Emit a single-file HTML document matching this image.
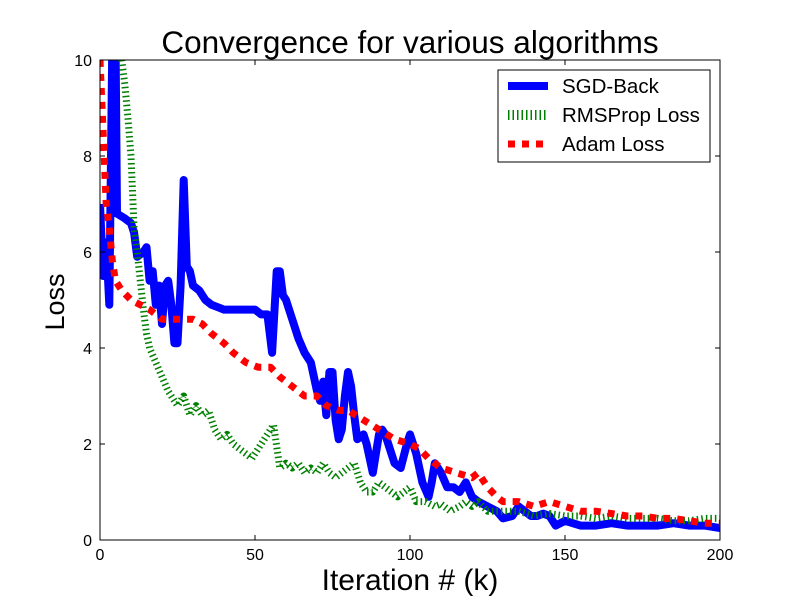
<!DOCTYPE html>
<html><head><meta charset="utf-8"><style>
body{margin:0;background:#fff}
svg text{font-family:"Liberation Sans","DejaVu Sans",sans-serif}
</style></head><body>
<svg id="chart" width="800" height="600">
<rect width="800" height="600" fill="#fff"/>
<defs><clipPath id="clip"><rect x="100" y="60" width="620" height="480"/></clipPath></defs>
<text x="410" y="53" font-size="31.5" text-anchor="middle">Convergence for various algorithms</text>
<g id="series" clip-path="url(#clip)"></g>
<g id="axes"></g>
<text x="410" y="590" font-size="30" text-anchor="middle">Iteration # (k)</text>
<text x="64" y="302" font-size="27" text-anchor="middle" transform="rotate(-90 64 302)">Loss</text>
<g>
<rect x="498" y="70" width="212" height="92" fill="#fff" stroke="#000" stroke-width="1"/>
<line x1="508" y1="86" x2="548" y2="86" stroke="#0000ff" stroke-width="8"/>
<text x="562" y="93" font-size="20.5">SGD-Back</text>
<line x1="508" y1="115" x2="548" y2="115" stroke="#008000" stroke-width="10" stroke-dasharray="1.5,3"/>
<text x="562" y="122" font-size="20.5">RMSProp Loss</text>
<line x1="508" y1="144" x2="548" y2="144" stroke="#ff0000" stroke-width="7" stroke-dasharray="7,7"/>
<text x="562" y="151" font-size="20.5">Adam Loss</text>
</g>
</svg>
<script>
const xTicks=[0,50,100,150,200];
const yTicks=[0,2,4,6,8,10];
const sgdK=[0,1,2,3,4,5,5.5,8,10,11,12,14,15,16,17,18,19,20,21,22,23,24,25,26,27,28,29,30,32,34,36,38,40,45,50,52,54,55.5,57,58,59,60,62,64,66,68,70,71,72,73,74,75,76,77,78,79,80,81,82,83,85,86,87,88,89,90,91,92,93,95,97,99,100,102,104,106,107,108,110,112,114,116,118,120,122,125,128,130,133,135,137,139,141,143,145,147,150,155,160,165,170,175,180,185,190,195,200];
const sgdV=[7,5.5,6.2,4.9,10.5,10.5,6.8,6.7,6.6,6.4,5.9,6.0,6.1,5.4,5.6,4.9,5.3,4.5,5.3,5.4,4.9,4.1,4.1,5.3,7.5,5.7,5.6,5.3,5.2,5.0,4.9,4.85,4.8,4.8,4.8,4.7,4.7,3.9,5.6,5.6,5.1,5.0,4.6,4.2,3.9,3.7,3.1,2.9,3.3,2.6,3.5,3.5,2.5,2.1,2.3,3.0,3.5,3.2,2.6,2.1,2.2,2.0,1.7,1.4,1.8,2.2,2.3,2.2,2.0,1.6,1.5,2.0,2.2,1.8,1.2,0.9,1.2,1.6,1.4,1.1,1.1,1.0,1.2,0.9,0.8,0.7,0.6,0.45,0.5,0.7,0.6,0.5,0.5,0.55,0.5,0.3,0.4,0.3,0.3,0.35,0.3,0.3,0.3,0.35,0.3,0.3,0.25];
const rmsK=[7,8,9,10,11,12,13,14,15,16,18,20,22,24,25,27,29,31,33,35,37,39,41,43,45,47,49,51,53,55,56,58,60,62,64,66,68,70,72,74,76,78,80,82,84,86,88,90,92,94,96,100,102,105,108,110,113,116,118,120,122,125,130,135,140,145,150,155,160,165,170,175,180,185,190,195,200];
const rmsV=[10,9.5,8.8,8,6.5,6.0,5.4,4.8,4.3,4.0,3.7,3.4,3.1,2.9,2.8,3.0,2.6,2.8,2.6,2.7,2.3,2.1,2.2,2.0,1.9,1.8,1.7,1.9,2.1,2.3,2.4,1.5,1.6,1.5,1.6,1.4,1.5,1.4,1.6,1.4,1.3,1.4,1.5,1.6,1.2,1.0,1.0,1.2,1.1,1.0,0.9,1.1,0.8,0.8,0.7,0.75,0.6,0.7,0.8,0.7,0.8,0.6,0.6,0.6,0.5,0.55,0.5,0.5,0.45,0.5,0.45,0.45,0.45,0.4,0.4,0.45,0.45];
const adamK=[0,1,2,3,4,5,7,10,13,16,20,25,30,33,36,40,43,47,51,55,58,62,66,70,73,77,80,85,90,95,100,103,106,110,115,120,122,125,128,130,135,140,145,150,155,160,165,170,175,180,185,190,195,200];
const adamV=[10,8.5,7,6.5,5.8,5.4,5.2,5.0,4.9,4.8,4.6,4.6,4.6,4.5,4.3,4.1,3.9,3.7,3.6,3.6,3.4,3.2,3.0,3.0,2.8,2.7,2.7,2.5,2.3,2.1,2.0,1.9,1.7,1.5,1.4,1.3,1.4,1.1,0.9,0.8,0.8,0.7,0.8,0.7,0.6,0.6,0.55,0.5,0.5,0.45,0.45,0.4,0.35,0.35];
const NS='http://www.w3.org/2000/svg';
const X=k=>100+k/200*620, Y=v=>540-v/10*480;
function path(ks,vs,stroke,w,dash,name){
  const p=document.createElementNS(NS,'path');
  p.setAttribute('d',ks.map((k,i)=>(i?'L':'M')+X(k).toFixed(1)+','+Y(vs[i]).toFixed(1)).join(''));
  p.setAttribute('fill','none');p.setAttribute('stroke',stroke);p.setAttribute('stroke-width',w);
  p.setAttribute('stroke-linejoin','round');
  if(dash)p.setAttribute('stroke-dasharray',dash);
  
  
  document.getElementById('series').appendChild(p);
}
path(sgdK,sgdV,'#0000ff',8,null,'sgd-back-line');
path(rmsK,rmsV,'#008000',7,'1.5,3','rmsprop-line');
path(adamK,adamV,'#ff0000',7,'7,7','adam-line');
const ax=document.getElementById('axes');
let h='<rect x="100" y="60" width="620" height="480" fill="none" stroke="#000" stroke-width="1"/>';
xTicks.forEach(t=>{const x=X(t);h+=`<line x1="${x}" y1="540" x2="${x}" y2="535" stroke="#000"/><line x1="${x}" y1="60" x2="${x}" y2="65" stroke="#000"/><text x="${x}" y="560" font-size="16" text-anchor="middle">${t}</text>`;});
yTicks.forEach(t=>{const y=Y(t);h+=`<line x1="100" y1="${y}" x2="105" y2="${y}" stroke="#000"/><line x1="720" y1="${y}" x2="715" y2="${y}" stroke="#000"/><text x="92" y="${y+6}" font-size="16" text-anchor="end">${t}</text>`;});
ax.innerHTML=h;


</script>
</body></html>
